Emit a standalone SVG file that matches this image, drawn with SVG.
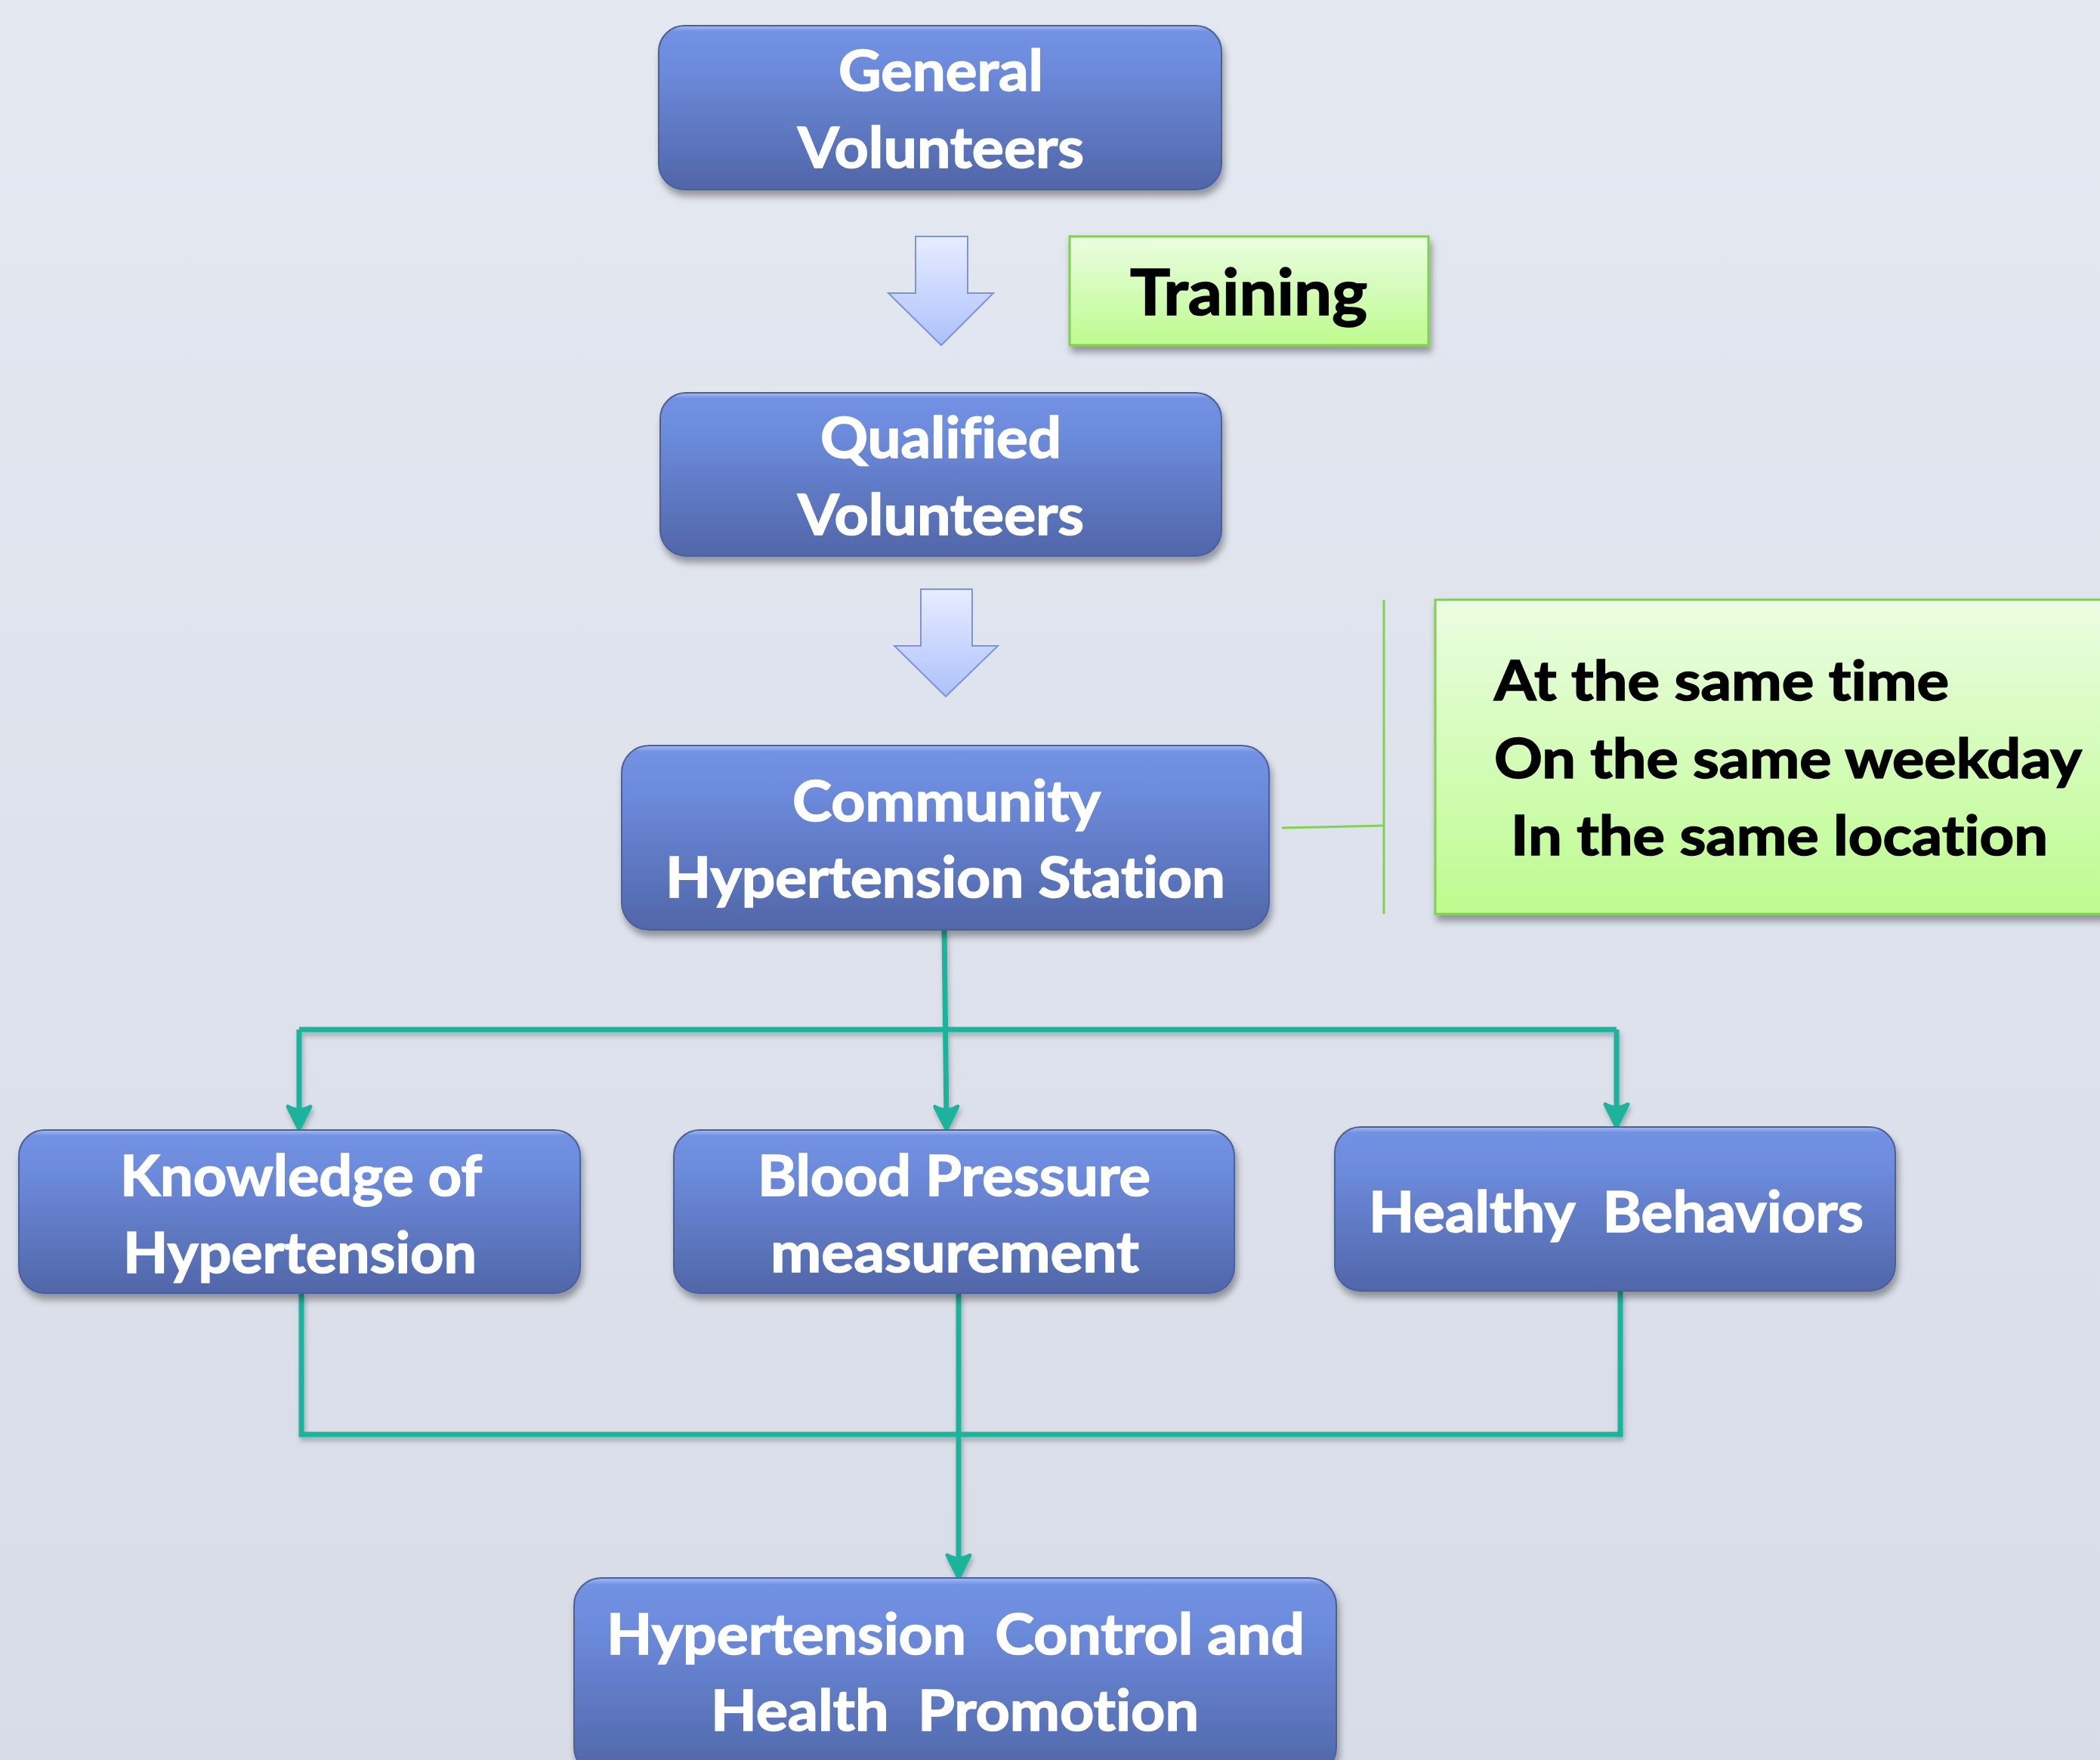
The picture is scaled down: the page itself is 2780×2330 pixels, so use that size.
<svg xmlns="http://www.w3.org/2000/svg" width="2780" height="2330" viewBox="0 0 2780 2330">
<defs>
<linearGradient id="bg" x1="0" y1="0" x2="0" y2="1"><stop offset="0" stop-color="#e4e8f1"/><stop offset="1" stop-color="#d8dce7"/></linearGradient>
<linearGradient id="blue" x1="0" y1="0" x2="0" y2="1"><stop offset="0" stop-color="#a3bbf6"/><stop offset="0.035" stop-color="#7391e2"/><stop offset="0.25" stop-color="#6d8bdc"/><stop offset="1" stop-color="#5066a8"/></linearGradient>
<linearGradient id="green" x1="0" y1="0" x2="0" y2="1"><stop offset="0" stop-color="#ebfde2"/><stop offset="1" stop-color="#bdfb8e"/></linearGradient>
<linearGradient id="barrow" x1="0" y1="0" x2="0" y2="1"><stop offset="0" stop-color="#e7ecff"/><stop offset="1" stop-color="#adc1fb"/></linearGradient>
<filter id="sh" x="-10%" y="-10%" width="125%" height="135%"><feDropShadow dx="3" dy="8" stdDeviation="5" flood-color="#000" flood-opacity="0.35"/></filter>
<filter id="lsh" filterUnits="userSpaceOnUse" x="0" y="0" width="2780" height="2330"><feDropShadow dx="2" dy="5" stdDeviation="3" flood-color="#000" flood-opacity="0.25"/></filter>
<marker id="arr" viewBox="-40 -22 56 44" refX="-10" refY="0" markerWidth="56" markerHeight="44" orient="auto" markerUnits="userSpaceOnUse">
<path d="M0,0 L-30,-15 Q-21,0 -30,15 Z" fill="#1bb39d" stroke="#1bb39d" stroke-width="5" stroke-linejoin="round" stroke-linecap="round"/>
</marker>
<style>
.box{fill:url(#blue);stroke:#4b5f9b;stroke-width:2;filter:url(#sh)}
.gbox{fill:url(#green);stroke:#7fd04c;stroke-width:3;filter:url(#sh)}
text{font-variant-ligatures:none;font-feature-settings:"liga" 0,"dlig" 0}
.wt{font-family:Lato,"Open Sans",sans-serif;font-weight:bold;font-size:75px;fill:#ffffff;stroke:#ffffff;stroke-width:1.6;text-anchor:middle}
.bt{font-family:Lato,"Open Sans",sans-serif;font-weight:bold;fill:#000000;stroke:#000000;stroke-width:1.6}
.con{fill:none;stroke:#1bb39d;stroke-width:7}
.brk{fill:none;stroke:#82d152;stroke-width:3}
.barr{fill:url(#barrow);stroke:#7d94d6;stroke-width:2}
</style>
</defs>
<rect x="0" y="0" width="2780" height="2330" fill="url(#bg)"/>

<g id="connectors">
<g filter="url(#lsh)">
<path class="con" d="M1250,1231 L1253,1485" marker-end="url(#arr)"/>
<path class="con" d="M396,1363 L2140,1363"/>
<path class="con" d="M396,1363 L396,1485" marker-end="url(#arr)"/>
<path class="con" d="M2140,1363 L2140,1482" marker-end="url(#arr)"/>
<path class="con" d="M399,1712 L399,1899 L2145,1899 L2145,1709"/>
<path class="con" d="M1269,1712 L1269,2079" marker-end="url(#arr)"/>
</g>
<path class="brk" d="M1697,1096 L1832,1093"/>
<path class="brk" d="M1832,794 L1832,1210"/>
<path class="barr" d="M1212,313 L1281,313 L1281,388 L1315,388 L1246,457 L1176,388 L1212,388 Z"/>
<path class="barr" d="M1219,780 L1287,780 L1287,855 L1321,855 L1252,922 L1184,855 L1219,855 Z"/>
</g>

<g id="general-volunteers">
<rect class="box" x="872" y="34" width="745" height="217" rx="34"/>
<text class="wt" x="1245.5" y="120" textLength="271" lengthAdjust="spacingAndGlyphs">General</text>
<text class="wt" x="1245.5" y="222" textLength="379" lengthAdjust="spacingAndGlyphs">Volunteers</text>
</g>

<g id="training">
<rect class="gbox" x="1416" y="313" width="475" height="144"/>
<text class="bt" x="1496" y="417" font-size="84" textLength="314" lengthAdjust="spacingAndGlyphs">Training</text>
</g>

<g id="qualified-volunteers">
<rect class="box" x="874" y="520" width="743" height="216" rx="34"/>
<text class="wt" x="1245.5" y="606" textLength="319" lengthAdjust="spacingAndGlyphs">Qualified</text>
<text class="wt" x="1245.5" y="708" textLength="379" lengthAdjust="spacingAndGlyphs">Volunteers</text>
</g>

<g id="community-station">
<rect class="box" x="823" y="987" width="857" height="244" rx="36"/>
<text class="wt" x="1253" y="1087" textLength="408" lengthAdjust="spacingAndGlyphs">Community</text>
<text class="wt" x="1251.5" y="1188" textLength="741" lengthAdjust="spacingAndGlyphs">Hypertension Station</text>
</g>

<g id="same-conditions">
<rect class="gbox" x="1900" y="794" width="900" height="416"/>
<text class="bt" x="1978" y="927" font-size="72" textLength="602" lengthAdjust="spacingAndGlyphs">At the same time</text>
<text class="bt" x="1978" y="1030" font-size="72" textLength="778" lengthAdjust="spacingAndGlyphs">On the same weekday</text>
<text class="bt" x="2000" y="1132" font-size="72" textLength="711" lengthAdjust="spacingAndGlyphs">In the same location</text>
</g>

<g id="knowledge">
<rect class="box" x="25" y="1496" width="743" height="216" rx="34"/>
<text class="wt" x="398.5" y="1583" textLength="479" lengthAdjust="spacingAndGlyphs">Knowledge of</text>
<text class="wt" x="397" y="1685" textLength="468" lengthAdjust="spacingAndGlyphs">Hypertension</text>
</g>

<g id="blood-pressure">
<rect class="box" x="892" y="1496" width="742" height="216" rx="34"/>
<text class="wt" x="1263" y="1583" textLength="520" lengthAdjust="spacingAndGlyphs">Blood Pressure</text>
<text class="wt" x="1264" y="1684" textLength="488" lengthAdjust="spacingAndGlyphs">measurement</text>
</g>

<g id="healthy-behaviors">
<rect class="box" x="1767" y="1492" width="742" height="217" rx="34"/>
<text class="wt" x="2139.5" y="1631" textLength="655" lengthAdjust="spacingAndGlyphs" xml:space="preserve">Healthy  Behaviors</text>
</g>

<g id="control-promotion">
<rect class="box" x="760" y="2089" width="1009" height="260" rx="36"/>
<text class="wt" x="1265" y="2190" textLength="924" lengthAdjust="spacingAndGlyphs" xml:space="preserve">Hypertension  Control and</text>
<text class="wt" x="1264" y="2291" textLength="646" lengthAdjust="spacingAndGlyphs" xml:space="preserve">Health  Promotion</text>
</g>
</svg>
